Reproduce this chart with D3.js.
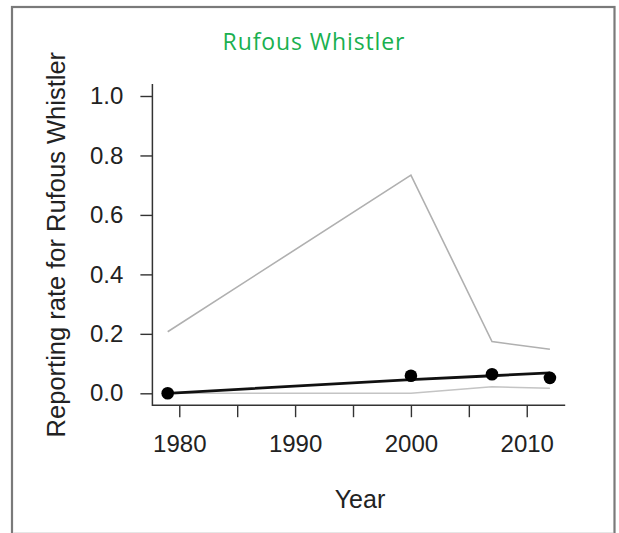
<!DOCTYPE html>
<html>
<head>
<meta charset="utf-8">
<script src="https://cdn.jsdelivr.net/npm/d3@7"></script>
<style>
  html, body { margin: 0; padding: 0; background: #ffffff; }
  svg { display: block; }
</style>
</head>
<body>
<svg id="chart" width="619" height="533"></svg>
<script>
// ---- data ----
const title = "Rufous Whistler";
const xLabel = "Year";
const yLabel = "Reporting rate for Rufous Whistler";
const years = [1979, 2000, 2007, 2012];
const observed = [0.0, 0.059, 0.064, 0.052];
const fitted = [0.0, 0.046, 0.059, 0.069];
const upperBound = [0.207, 0.734, 0.174, 0.148];
const lowerBound = [0.0, 0.0, 0.022, 0.017];
const xTicks = [1980, 1985, 1990, 1995, 2000, 2005, 2010];
const xTickLabels = ["1980", "", "1990", "", "2000", "", "2010"];
const yTicks = [0, 0.2, 0.4, 0.6, 0.8, 1.0];
const yTickLabels = ["0.0", "0.2", "0.4", "0.6", "0.8", "1.0"];

// ---- layout ----
const svg = d3.select("#chart");
const axisFont = "'Liberation Sans', Arial, sans-serif";
const textColor = "#222";

// frame
svg.append("rect")
  .attr("x", 12).attr("y", 7)
  .attr("width", 602.5).attr("height", 560)
  .attr("fill", "none").attr("stroke", "#7a7a7a").attr("stroke-width", 2.2);
svg.append("line")
  .attr("x1", 13).attr("x2", 613).attr("y1", 532.5).attr("y2", 532.5)
  .attr("stroke", "#e6e6e6").attr("stroke-width", 1);

// title
svg.append("text")
  .attr("x", 314).attr("y", 50)
  .attr("text-anchor", "middle")
  .attr("font-family", "'Open Sans', Lato, sans-serif")
  .attr("font-size", 23)
  .attr("letter-spacing", 0.9)
  .attr("fill", "#19b04f")
  .text(title);

// scales (R-style 4% padding)
const xPad = (d3.max(years) - d3.min(years)) * 0.04;
const x = d3.scaleLinear()
  .domain([d3.min(years) - xPad, d3.max(years) + xPad])
  .range([152.4, 565.2]);
const y = d3.scaleLinear()
  .domain([-0.04, 1.04])
  .range([405.2, 84.1]);

const plotBottom = y.range()[0];
const plotLeft = x.range()[0];

// x axis
const xAxis = d3.axisBottom(x)
  .tickValues(xTicks)
  .tickFormat((d, i) => xTickLabels[i])
  .tickSize(12)
  .tickPadding(18);
const gx = svg.append("g")
  .attr("transform", `translate(0,${plotBottom})`)
  .call(xAxis);
gx.select(".domain").remove();
gx.selectAll(".tick line").attr("stroke", "#333").attr("stroke-width", 1.4);
gx.selectAll(".tick text")
  .attr("font-family", axisFont).attr("font-size", 24).attr("fill", textColor);

// y axis
const yAxis = d3.axisLeft(y)
  .tickValues(yTicks)
  .tickFormat((d, i) => yTickLabels[i])
  .tickSize(12)
  .tickPadding(17);
const gy = svg.append("g")
  .attr("transform", `translate(${plotLeft},0)`)
  .call(yAxis);
gy.select(".domain").remove();
gy.selectAll(".tick line").attr("stroke", "#333").attr("stroke-width", 1.4);
gy.selectAll(".tick text")
  .attr("font-family", axisFont).attr("font-size", 24).attr("fill", textColor);

// L-shaped box
svg.append("path")
  .attr("d", `M${plotLeft},${y.range()[1]} L${plotLeft},${plotBottom} L${x.range()[1]},${plotBottom}`)
  .attr("fill", "none").attr("stroke", "#333").attr("stroke-width", 1.5);

// axis titles
svg.append("text")
  .attr("x", 360).attr("y", 508)
  .attr("text-anchor", "middle")
  .attr("font-family", axisFont).attr("font-size", 25)
  .attr("fill", textColor)
  .text(xLabel);
svg.append("text")
  .attr("transform", `translate(65,${(y(0) + y(1)) / 2}) rotate(-90)`)
  .attr("text-anchor", "middle")
  .attr("font-family", axisFont).attr("font-size", 25.5)
  .attr("fill", textColor)
  .text(yLabel);

// lines
const pts = (vals) => years.map((yr, i) => [yr, vals[i]]);
const line = d3.line().x(d => x(d[0])).y(d => y(d[1]));

svg.append("path").datum(pts(upperBound))
  .attr("d", line).attr("fill", "none")
  .attr("stroke", "#b0b0b0").attr("stroke-width", 1.6);
svg.append("path").datum(pts(lowerBound))
  .attr("d", line).attr("fill", "none")
  .attr("stroke", "#c4c4c4").attr("stroke-width", 1.6);
svg.append("path").datum(pts(fitted))
  .attr("d", line).attr("fill", "none")
  .attr("stroke", "#111").attr("stroke-width", 2.8);

svg.append("g").selectAll("circle")
  .data(pts(observed))
  .join("circle")
  .attr("cx", d => x(d[0])).attr("cy", d => y(d[1]))
  .attr("r", 6.3).attr("fill", "#000");
</script>
</body>
</html>
